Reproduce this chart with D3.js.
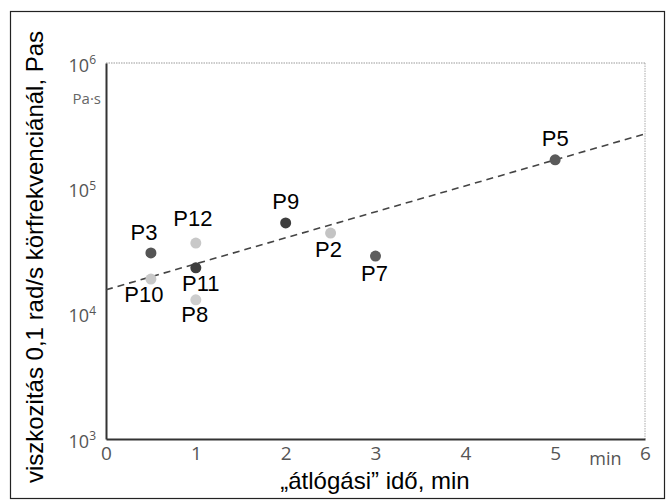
<!DOCTYPE html>
<html>
<head>
<meta charset="utf-8">
<script src="https://cdn.jsdelivr.net/npm/d3@7/dist/d3.min.js"></script>
<style>
  html, body { margin: 0; padding: 0; background: #fff; }
  svg { display: block; }
</style>
</head>
<body>
<div id="chart"></div>
<script>
// ---- data ----
const names   = ["P3", "P12", "P10", "P11", "P8", "P9", "P2", "P7", "P5"];
const times   = [0.5, 1.0, 0.5, 1.0, 1.0, 2.0, 2.5, 3.0, 5.0];          // min
const viscos  = [30500, 36600, 18900, 23200, 12900, 53000, 44000, 28800, 168700]; // Pa·s
const shades  = ["#555", "#c8c8c8", "#c8c8c8", "#3e3e3e", "#cdcdcd", "#3e3e3e", "#c4c4c4", "#5e5e5e", "#5a5a5a"];
const trendX  = [0, 6];
const trendY  = [15500, 272000];
const xTicks  = [0, 1, 2, 3, 4, 5, 6];
const yTickExp = [3, 4, 5, 6];
// label offsets (dx, dy) relative to dot, for placement only
const labelDx = [-7, -3, -7, 5, -1, 0, -2, -1, 0];
const labelDy = [-13, -17, 23, 23, 22, -14, 24, 25, -14];

const W = 672, H = 503;
const svg = d3.select("#chart").append("svg").attr("width", W).attr("height", H);

// outer frame
svg.append("rect").attr("x", 10.5).attr("y", 11.5).attr("width", 654).attr("height", 487)
  .attr("fill", "none").attr("stroke", "#222").attr("stroke-width", 1.2);

const x = d3.scaleLinear().domain([0, 6]).range([106, 645]);
const y = d3.scaleLog().domain([1e3, 1e6]).range([439, 63]);

// top & right faint dotted frame
svg.append("line").attr("x1", x(0)).attr("x2", x(6)).attr("y1", y(1e6)).attr("y2", y(1e6))
  .attr("stroke", "#999").attr("stroke-width", 1).attr("stroke-dasharray", "1.5,1");
svg.append("line").attr("x1", x(6)).attr("x2", x(6)).attr("y1", y(1e6)).attr("y2", y(1e3))
  .attr("stroke", "#aaa").attr("stroke-width", 1).attr("stroke-dasharray", "1.5,1");

// x axis
const gx = svg.append("g").attr("transform", `translate(0,${y(1e3)})`)
  .call(d3.axisBottom(x).tickValues(xTicks).tickSize(0).tickPadding(8).tickFormat(d3.format("d")));
gx.select(".domain").attr("stroke", "#333").attr("stroke-width", 2);
gx.selectAll("text").attr("font-family", "'Open Sans', sans-serif").attr("font-size", 19)
  .attr("fill", "#555");
svg.append("text").attr("x", x(5.56)).attr("y", y(1e3) + 26).attr("text-anchor", "middle")
  .attr("font-family", "'Open Sans', sans-serif").attr("font-size", 18).attr("fill", "#555").text("min");

// y axis
const gy = svg.append("g").attr("transform", `translate(${x(0)},0)`)
  .call(d3.axisLeft(y).tickValues(yTickExp.map(e => Math.pow(10, e))).tickSize(0).tickPadding(10).tickFormat(() => ""));
gy.select(".domain").attr("stroke", "#333").attr("stroke-width", 2);
gy.selectAll(".tick text").each(function(d) {
  const t = d3.select(this);
  t.text(null).attr("font-family", "'Open Sans', sans-serif").attr("font-size", 18).attr("fill", "#555")
    .attr("dy", "0.45em");
  t.append("tspan").text("10");
  t.append("tspan").attr("dy", "-0.6em").attr("font-size", 12).text(Math.round(Math.log10(d)));
});
svg.append("text").attr("x", 101).attr("y", y(1e6) + 41).attr("text-anchor", "end")
  .attr("font-family", "'Open Sans', sans-serif").attr("font-size", 15).attr("fill", "#666").text("Pa·s");

// trend line
const line = d3.line().x(d => x(d[0])).y(d => y(d[1]));
svg.append("path").datum(trendX.map((v, i) => [v, trendY[i]]))
  .attr("d", line).attr("fill", "none").attr("stroke", "#444").attr("stroke-width", 1.6)
  .attr("stroke-dasharray", "7,5");

// points
const pts = names.map((n, i) => ({ n, t: times[i], v: viscos[i], c: shades[i], dx: labelDx[i], dy: labelDy[i] }));
svg.append("g").selectAll("circle").data(pts).join("circle")
  .attr("cx", d => x(d.t)).attr("cy", d => y(d.v)).attr("r", 5.5).attr("fill", d => d.c);
svg.append("g").selectAll("text").data(pts).join("text")
  .attr("x", d => x(d.t) + d.dx).attr("y", d => y(d.v) + d.dy).attr("text-anchor", "middle")
  .attr("font-family", "'Liberation Sans', Arial, sans-serif").attr("font-size", 22).attr("fill", "#000")
  .text(d => d.n);

// axis titles
svg.append("text").attr("x", 375).attr("y", 489).attr("text-anchor", "middle")
  .attr("font-family", "'Liberation Sans', Arial, sans-serif").attr("font-size", 24).attr("fill", "#000")
  .text("„átlógási” idő, min");
svg.append("text").attr("transform", "translate(43,257) rotate(-90)").attr("text-anchor", "middle")
  .attr("font-family", "'Liberation Sans', Arial, sans-serif").attr("font-size", 24).attr("fill", "#000")
  .text("viszkozitás 0,1 rad/s körfrekvenciánál, Pas");
</script>
</body>
</html>
